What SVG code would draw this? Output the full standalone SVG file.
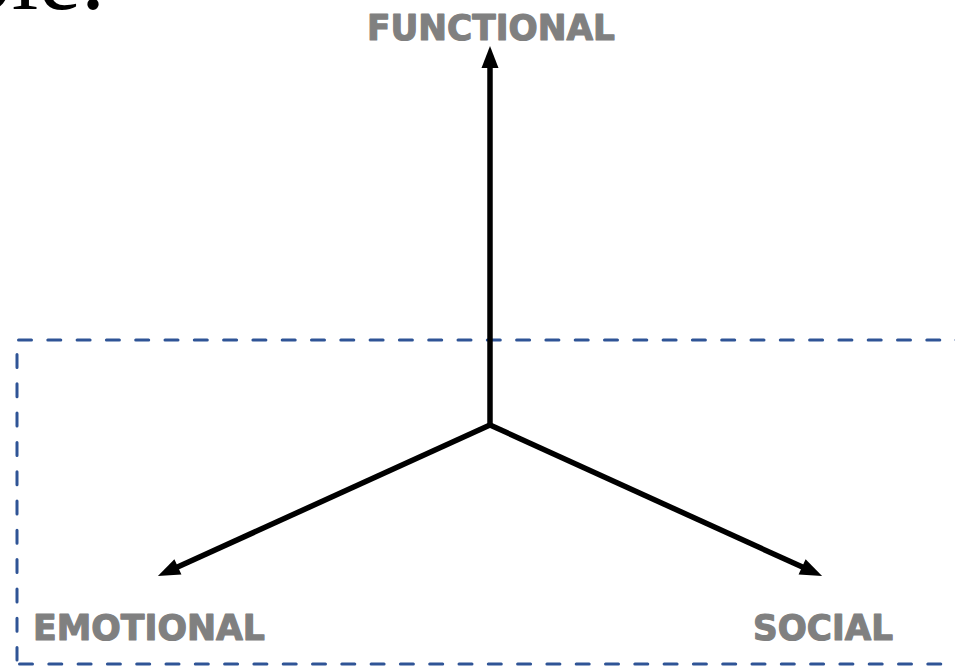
<svg xmlns="http://www.w3.org/2000/svg" width="955" height="666" viewBox="0 0 955 666">
<style>
.lbl{font-family:"DejaVu Sans","Liberation Sans",sans-serif;font-weight:bold;font-size:36px;fill:#808080;stroke:#808080;stroke-width:1.2;stroke-linejoin:round}
.axis{stroke:#000;stroke-width:5.5;fill:none}
.dash{stroke:#2F5496;stroke-width:3;fill:none;stroke-linecap:round;stroke-dasharray:13 16.3}
</style>
<defs>
<marker id="ah" markerUnits="userSpaceOnUse" viewBox="0 -9 22 18" markerWidth="22" markerHeight="18" refX="0" refY="0" orient="auto" overflow="visible">
<path d="M-1,-8.5 L21,0 L-1,8.5 Z" fill="#000"/>
</marker>
</defs>
<rect width="955" height="666" fill="#fff"/>
<text x="105" y="9" text-anchor="end" font-family="'Liberation Serif',serif" font-size="96" fill="#000">ple.</text>
<g id="frame">
<path class="dash" d="M18.5,340 H960"/>
<path class="dash" d="M17,354.5 V660"/>
<path class="dash" d="M19.5,664 H960"/>
</g>
<g id="connectors">
<path class="axis" d="M490,425 V67" marker-end="url(#ah)"/>
<path class="axis" d="M490,425 L177,567.3" marker-end="url(#ah)"/>
<path class="axis" d="M490,425 L803,567.3" marker-end="url(#ah)"/>
</g>
<g id="functional"><text class="lbl" x="367" y="40" textLength="248" lengthAdjust="spacingAndGlyphs">FUNCTIONAL</text></g>
<g id="emotional"><text class="lbl" x="33" y="640" textLength="232" lengthAdjust="spacingAndGlyphs">EMOTIONAL</text></g>
<g id="social"><text class="lbl" x="753" y="640" textLength="140" lengthAdjust="spacingAndGlyphs">SOCIAL</text></g>
</svg>
